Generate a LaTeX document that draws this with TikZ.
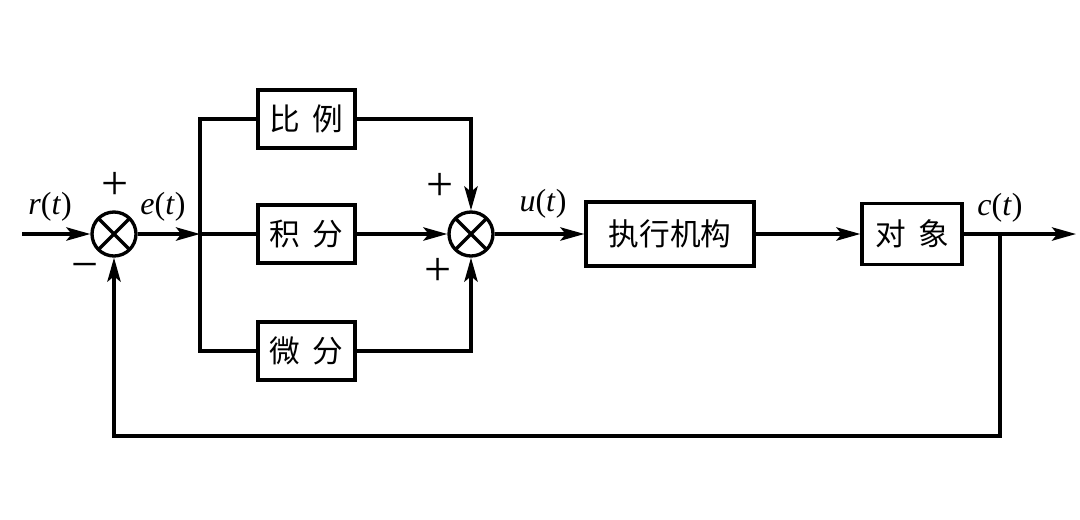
\documentclass[tikz,border=0pt]{standalone}
\usepackage{fontspec}
\setmainfont{Liberation Serif}
\newfontfamily\cjk{Noto Sans CJK SC}
\usetikzlibrary{arrows.meta,calc}
\tikzset{
  blk/.style={draw,line width=2.5pt,minimum width=72.75pt,minimum height=43.5pt,inner sep=0pt,font=\cjk\fontsize{23}{23}\selectfont},
  sumj/.style={draw,circle,line width=2.5pt,minimum size=33pt,inner sep=0pt,
    path picture={\draw[line width=2.5pt] (path picture bounding box.north west)--(path picture bounding box.south east)
      (path picture bounding box.north east)--(path picture bounding box.south west);}},
  lbl/.style={font=\fontsize{24}{24}\selectfont,inner sep=0pt},
  sgn/.style={font=\fontsize{36}{36}\selectfont,inner sep=0pt},
  wire/.style={line width=2.5pt},
  arr/.style={wire,-{Stealth[length=18pt,width=10pt,inset=4pt]}}
}
\begin{document}
\begin{tikzpicture}[x=0.75pt,y=-0.75pt]
\useasboundingbox[fill=white] (0,0) rectangle (1080,519);
% summing junctions
\node[sumj] (s1) at (114,234) {};
\node[sumj] (s2) at (471,234) {};
% blocks
\node[blk] (P) at (306.5,119) {比\hspace{0.4em}例};
\node[blk] (I) at (306.5,234) {积\hspace{0.4em}分};
\node[blk] (D) at (306.5,351) {微\hspace{0.4em}分};
\node[blk,minimum width=126pt,minimum height=48pt] (A) at (670,234) {执行机构};
\node[blk,minimum width=75pt,minimum height=45.75pt] (O) at (912,234) {对\hspace{0.4em}象};
% coordinates
\coordinate (in) at (22,234);
\coordinate (br) at (200,234);
\coordinate (ct) at (1000,234);
\coordinate (out) at (1076,234);
\coordinate (fb) at (1000,436);
% connectors
\draw[arr] (in) -- (s1.west);
\draw[arr] (s1.east) -- (br);
\draw[wire] (br) -- (I.west);
\draw[wire] (P.west) -| (br) |- (D.west);
\draw[arr] (P.east) -| (s2.north);
\draw[arr] (I.east) -- (s2.west);
\draw[arr] (D.east) -| (s2.south);
\draw[arr] (s2.east) -- (A.west);
\draw[arr] (A.east) -- (O.west);
\draw[arr] (O.east) -- (out);
\draw[arr] (ct) -- (fb) -| (s1.south);
% labels
\node[lbl] (lr) at (50,207) {\textit{r}(\textit{t})};
\node[lbl] (le) at (163,207) {\textit{e}(\textit{t})};
\node[lbl] (lu) at (543,204) {\textit{u}(\textit{t})};
\node[lbl] (lc) at (1000,208) {\textit{c}(\textit{t})};
\node[sgn] (p1) at (115,186) {+};
\node[sgn] (m1) at (85,272) {−};
\node[sgn] (p2) at (440,187) {+};
\node[sgn] (p3) at (438,272) {+};
\end{tikzpicture}
\end{document}
